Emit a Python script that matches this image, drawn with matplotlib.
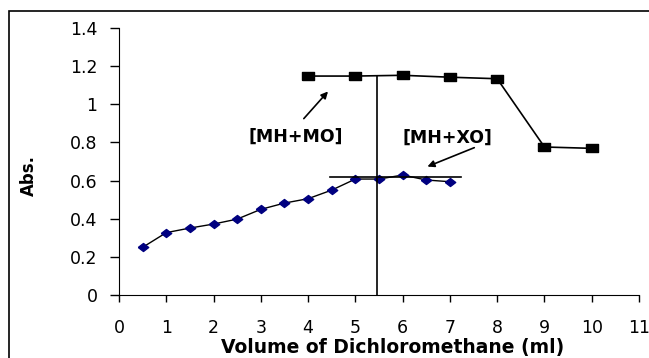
import matplotlib.pyplot as plt
from matplotlib.patches import Rectangle

plt.rcParams['font.family'] = ['DejaVu Sans']

# MH + MO series (squares)
mo_x = [4, 5, 6, 7, 8, 9, 10]
mo_y = [1.148, 1.148, 1.152, 1.142, 1.134, 0.776, 0.769]

# MH + XO series (diamonds)
xo_x = [0.5, 1, 1.5, 2, 2.5, 3, 3.5, 4, 4.5, 5, 5.5, 6, 6.5, 7]
xo_y = [0.25, 0.327, 0.351, 0.372, 0.398, 0.449, 0.482, 0.505, 0.55,
        0.608, 0.608, 0.629, 0.603, 0.594]

# guide lines
vline_x = 5.45
vline_top = 1.15
hline_y = 0.617
hline_x = [4.46, 7.24]

# wide markers, the original chart is stretched sideways
square = [(-1.5, -1), (1.5, -1), (1.5, 1), (-1.5, 1), (-1.5, -1)]
diamond = [(-1.3, 0), (0, 1), (1.3, 0), (0, -1), (-1.3, 0)]

fig = plt.figure(figsize=(6.49, 3.58), dpi=100)
ax = fig.add_axes([119 / 649, 1 - 295 / 358, 520 / 649, 267 / 358])

ax.plot(mo_x, mo_y, color='black', lw=1.2, marker=square, ms=8,
        mfc='black', mec='black')
ax.plot(xo_x, xo_y, color='black', lw=1.0, marker=diamond, ms=7.5,
        mfc='#000080', mec='#000080')

ax.plot([vline_x, vline_x], [0, vline_top], color='black', lw=1.2)
ax.plot(hline_x, [hline_y, hline_y], color='black', lw=1.2)

ax.annotate('', xy=(4.46, 1.078), xytext=(3.87, 0.914),
            arrowprops=dict(arrowstyle='-|>', color='black', lw=1.2, mutation_scale=10))
ax.annotate('', xy=(6.47, 0.668), xytext=(7.57, 0.778),
            arrowprops=dict(arrowstyle='-|>', color='black', lw=1.2, mutation_scale=10))
ax.text(3.73, 0.828, '[MH+MO]', fontsize=12.5, fontweight='bold', ha='center', va='center')
ax.text(6.94, 0.823, '[MH+XO]', fontsize=12.5, fontweight='bold', ha='center', va='center')

ax.set_xlim(0, 11)
ax.set_ylim(0, 1.4)
ax.set_xticks(range(0, 12))
ax.set_yticks([0, 0.2, 0.4, 0.6, 0.8, 1.0, 1.2, 1.4])
ax.set_yticklabels(['0', '0.2', '0.4', '0.6', '0.8', '1', '1.2', '1.4'])
ax.tick_params(labelsize=12.5, width=1, direction='out')
ax.tick_params(axis='x', length=5, pad=12)
ax.tick_params(axis='y', length=6.5, pad=9)
ax.spines['top'].set_visible(False)
ax.spines['right'].set_visible(False)

ax.set_xlabel('Volume of Dichloromethane (ml)', fontsize=13.5, fontweight='bold')
ax.xaxis.set_label_coords((393 - 119) / 520, -(347 - 295) / 267)
ax.xaxis.label.set_va('center')
ax.set_ylabel('Abs.', fontsize=12, fontweight='bold')
ax.yaxis.set_label_coords(-(119 - 29) / 520, (295 - 176) / 267)
ax.yaxis.label.set_va('center')

# outer frame of the chart area
fig.patches.append(Rectangle((9 / 649, -0.1), 1.2, (358 - 11) / 358 + 0.1,
                             transform=fig.transFigure, fill=False,
                             edgecolor='black', lw=1.2))

fig.savefig('out.png', dpi=100)
